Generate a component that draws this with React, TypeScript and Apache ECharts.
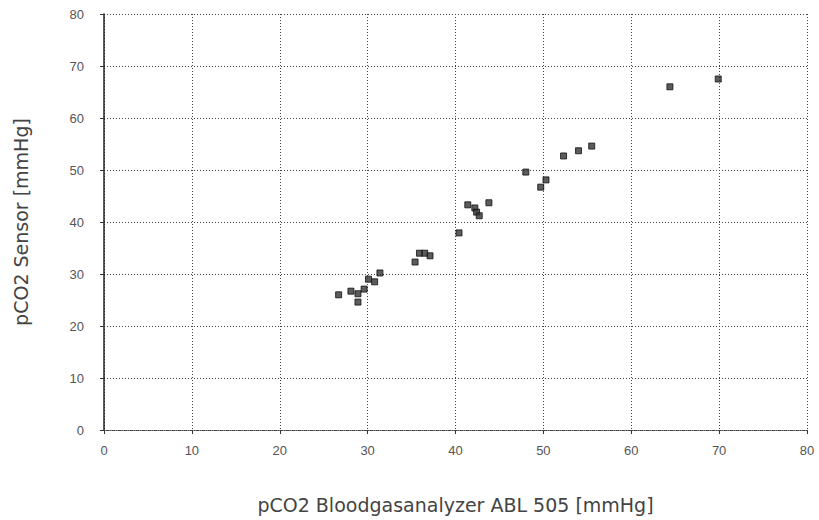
import React, { useEffect, useRef } from "react";
import * as echarts from "echarts";

const abl505: number[] = [
  26.7, 28.1, 28.9, 28.9, 29.6, 30.1, 30.8, 31.4,
  35.4, 35.9, 36.5, 37.1,
  40.4, 41.4, 42.2, 42.4, 42.7, 43.8,
  48.0, 49.7, 50.3,
  52.3, 54.0, 55.5,
  64.4, 69.9,
];
const sensor: number[] = [
  26.0, 26.7, 26.2, 24.6, 27.1, 29.0, 28.5, 30.2,
  32.3, 34.0, 34.0, 33.5,
  37.9, 43.3, 42.7, 41.9, 41.2, 43.7,
  49.6, 46.7, 48.1,
  52.7, 53.7, 54.6,
  66.0, 67.5,
];
const xTicks = [0, 10, 20, 30, 40, 50, 60, 70, 80];
const yTicks = [0, 10, 20, 30, 40, 50, 60, 70, 80];
const xName = "pCO2 Bloodgasanalyzer ABL 505 [mmHg]";
const yName = "pCO2 Sensor [mmHg]";

export default function App() {
  const ref = useRef<HTMLDivElement>(null);
  useEffect(() => {
    document.body.style.margin = "0";
    if (!ref.current) return;
    const chart = echarts.init(ref.current, undefined, { renderer: "svg" });
    const points = abl505.map((x, i) => [x, sensor[i]]);
    const labelStyle = {
      color: "#555",
      fontFamily: "Liberation Sans, Arial, sans-serif",
      fontSize: 13,
    };
    chart.setOption({
      animation: false,
      backgroundColor: "#fff",
      grid: { left: 104, right: 12, top: 14, bottom: 90 },
      xAxis: {
        type: "value",
        min: xTicks[0],
        max: xTicks[xTicks.length - 1],
        interval: 10,
        name: xName,
        nameLocation: "middle",
        nameGap: 65,
        nameTextStyle: {
          color: "#444",
          fontFamily: "DejaVu Sans, sans-serif",
          fontSize: 19,
        },
        axisLine: { show: true, lineStyle: { color: "#444", type: "dotted", width: 1 } },
        axisTick: { show: true, length: 4, lineStyle: { color: "#333" } },
        axisLabel: { ...labelStyle, margin: 14 },
        splitLine: { show: true, lineStyle: { color: "#444", type: [1, 2], width: 1 } },
      },
      yAxis: {
        type: "value",
        min: yTicks[0],
        max: yTicks[yTicks.length - 1],
        interval: 10,
        name: yName,
        nameLocation: "middle",
        nameGap: 74,
        nameTextStyle: {
          color: "#444",
          fontFamily: "DejaVu Sans, sans-serif",
          fontSize: 19,
        },
        axisLine: { show: true, lineStyle: { color: "#222", width: 1.5 } },
        axisTick: { show: true, length: 4, lineStyle: { color: "#333" } },
        axisLabel: { ...labelStyle, margin: 20 },
        splitLine: { show: true, lineStyle: { color: "#444", type: [1, 2], width: 1 } },
      },
      series: [
        {
          type: "scatter",
          data: points,
          symbol: "rect",
          symbolSize: 6,
          itemStyle: { color: "#333", borderColor: "#111", borderWidth: 1 },
        },
      ],
    });
    return () => chart.dispose();
  }, []);
  return <div ref={ref} style={{ width: 819, height: 520 }} />;
}
